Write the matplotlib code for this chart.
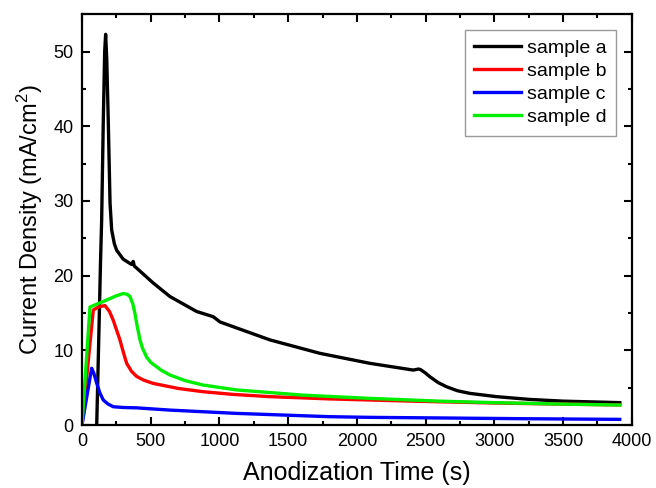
import matplotlib
matplotlib.use("Agg")
import matplotlib.pyplot as plt
from matplotlib.ticker import MultipleLocator

plt.rcParams["font.family"] = ["Liberation Sans", "DejaVu Sans"]
plt.rcParams["mathtext.fontset"] = "custom"
plt.rcParams["mathtext.rm"] = "Liberation Sans"
plt.rcParams["mathtext.it"] = "Liberation Sans"

# anodization curves
t_a = [107, 120, 135, 143, 155, 165, 172, 180, 191, 204, 216, 235, 252, 300, 360, 373, 380,
       519, 640, 834, 955, 1004, 1367, 1731, 2095, 2410, 2450, 2465, 2500, 2531, 2590,
       2652, 2730, 2822, 3016, 3258, 3501, 3913]
j_a = [0, 10, 22, 27.4, 40.8, 50, 52.3, 49, 40.8, 29.7, 26.1, 24.3, 23.4, 22.2, 21.5, 21.9, 21.3,
       19.0, 17.2, 15.2, 14.5, 13.8, 11.4, 9.6, 8.26, 7.36, 7.5, 7.4, 6.95, 6.47, 5.7,
       5.13, 4.6, 4.24, 3.8, 3.43, 3.2, 3.0]

t_b = [0, 82, 120, 167, 200, 228, 276, 300, 325, 360, 398, 450, 519, 700, 882, 1100, 1367,
       1800, 2400, 3000, 3500, 3913]
j_b = [0, 15.4, 15.8, 16.0, 15.2, 14.0, 11.4, 9.8, 8.26, 7.2, 6.5, 6.0, 5.57, 4.9, 4.46, 4.1, 3.8,
       3.5, 3.2, 2.95, 2.8, 2.7]

t_c = [0, 70, 85, 107, 130, 155, 190, 228, 300, 398, 640, 1125, 1800, 2095, 2600, 3200, 3913]
j_c = [0, 7.6, 7.0, 5.6, 4.3, 3.35, 2.8, 2.45, 2.35, 2.3, 2.0, 1.56, 1.12, 1.03, 0.95, 0.85, 0.76]

t_d = [0, 58, 150, 250, 300, 330, 349, 370, 385, 400, 422, 440, 470, 500, 543, 580, 640,
       750, 882, 1125, 1610, 2095, 2600, 3000, 3500, 3913]
j_d = [0, 15.8, 16.5, 17.3, 17.6, 17.5, 17.2, 16.2, 14.95, 13.4, 11.4, 10.3, 9.1, 8.4, 7.8, 7.3, 6.7,
       5.95, 5.35, 4.7, 4.0, 3.57, 3.2, 3.0, 2.8, 2.68]

fig = plt.figure(figsize=(6.56, 4.88), dpi=100)
ax = fig.add_axes([0.125, 0.129, 0.838, 0.842])

lw = 2.4
ax.plot(t_a, j_a, color="black", lw=lw, label="sample a", solid_joinstyle="round")
ax.plot(t_b, j_b, color="#ff0000", lw=lw, label="sample b", solid_joinstyle="round")
ax.plot(t_c, j_c, color="#0000ff", lw=lw, label="sample c", solid_joinstyle="round")
ax.plot(t_d, j_d, color="#00ee00", lw=lw, label="sample d", solid_joinstyle="round")

ax.set_xlim(0, 4000)
ax.set_ylim(0, 55)
ax.xaxis.set_major_locator(MultipleLocator(500))
ax.xaxis.set_minor_locator(MultipleLocator(250))
ax.yaxis.set_major_locator(MultipleLocator(10))
ax.yaxis.set_minor_locator(MultipleLocator(5))
ax.tick_params(which="both", direction="in", top=True, right=True, width=1.5, labelsize=13)
ax.tick_params(which="major", length=6, pad=6)
ax.tick_params(which="minor", length=3)
for s in ax.spines.values():
    s.set_linewidth(1.6)

ax.set_xlabel("Anodization Time (s)", fontsize=18, labelpad=8)
ax.set_ylabel("Current Density (mA/cm$^2$)", fontsize=17, labelpad=6)

leg = ax.legend(loc="upper right", fontsize=14, handlelength=2.4, handletextpad=0.3,
                labelspacing=0.28, borderaxespad=0.8, borderpad=0.5,
                fancybox=False, framealpha=1)
leg.get_frame().set_edgecolor("#999999")
leg.get_frame().set_linewidth(1.0)

fig.savefig("out.png", dpi=100)
